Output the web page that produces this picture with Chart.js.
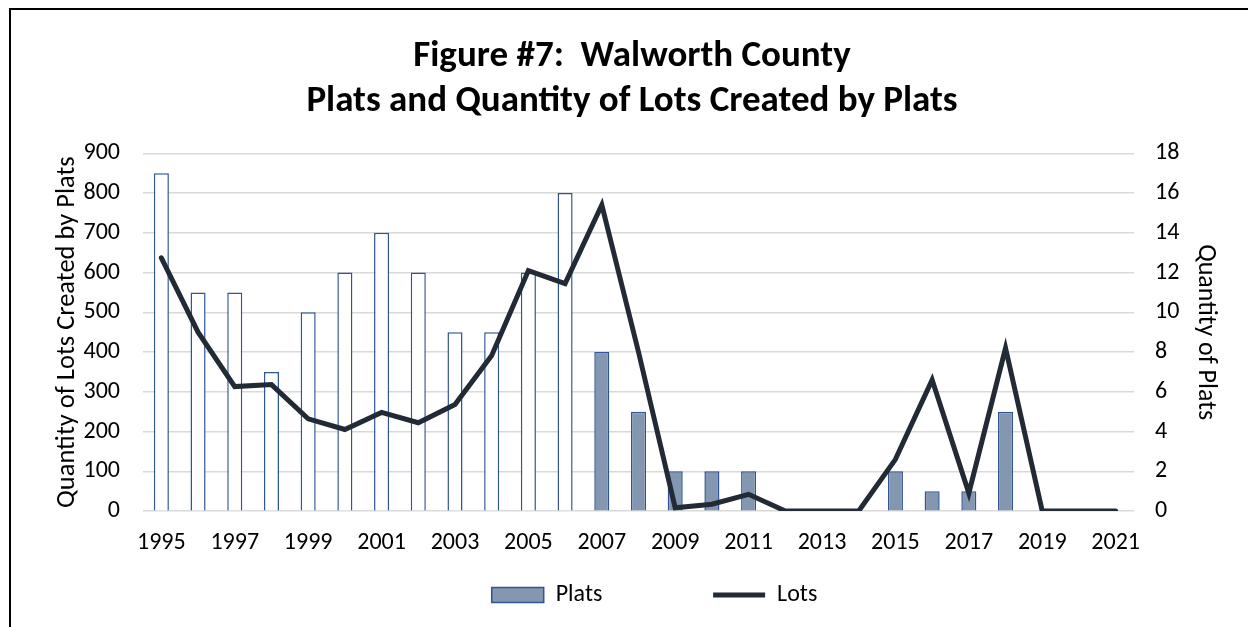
<!DOCTYPE html>
<html>
<head>
<meta charset="utf-8">
<script src="https://cdn.jsdelivr.net/npm/chart.js@4/dist/chart.umd.min.js"></script>
<style>
  html, body { margin: 0; padding: 0; background: #fff; }
  #frame { position: absolute; left: 9px; top: 8px; width: 1300px; height: 700px;
           border-left: 2px solid #000; border-top: 2px solid #000; }
  #wrap { position: absolute; left: 0; top: 0; width: 1248px; height: 627px; }
</style>
</head>
<body>
<div id="frame"></div>
<div id="wrap"><canvas id="chart" width="1248" height="627"></canvas></div>
<script>
// data
var years = ['1995','1996','1997','1998','1999','2000','2001','2002','2003','2004','2005','2006','2007',
             '2008','2009','2010','2011','2012','2013','2014','2015','2016','2017','2018','2019','2020','2021'];
var plats = [17, 11, 11, 7, 10, 12, 14, 12, 9, 9, 12, 16, 8, 5, 2, 2, 2, 0, 0, 0, 2, 1, 1, 5, 0, 0, 0];
var lots = [637, 450, 313, 318, 232, 205, 248, 222, 268, 391, 605, 572, 770, 400, 8, 17, 42, 0, 0, 0, 130, 330, 45, 410, 0, 0, 0];
var lotsTicks = [0, 100, 200, 300, 400, 500, 600, 700, 800, 900];
var platsTicks = [0, 2, 4, 6, 8, 10, 12, 14, 16, 18];

var BAR_EDGE = '#2F5597';
var BAR_FILL = '#8497B0';
var LINE_COL = '#222A35';
var GRID_COL = '#D9D9D9';

// hollow bars up to 2006, filled from 2007 on
var barFills = years.map(function (y) { return parseInt(y) < 2007 ? '#FFFFFF' : BAR_FILL; });

Chart.defaults.font.family = "Carlito, Calibri, Lato, sans-serif";
Chart.defaults.color = '#000';

// nudge the legend row a little right, like the original
var legendNudge = {
    id: 'legendNudge',
    afterLayout: function (c) {
        c.legend.left += 16;
        c.legend.right += 16;
    }
};

var ctx = document.getElementById('chart').getContext('2d');
var chart = new Chart(ctx, {
    type: 'bar',
    data: {
        labels: years,
        datasets: [
            {
                type: 'bar',
                label: 'Plats',
                data: plats,
                yAxisID: 'y1',
                backgroundColor: barFills,
                borderColor: BAR_EDGE,
                borderWidth: 1.5,
                barPercentage: 0.41,
                categoryPercentage: 1.0,
                order: 1
            },
            {
                type: 'line',
                label: 'Lots',
                data: lots,
                yAxisID: 'y',
                borderColor: LINE_COL,
                backgroundColor: LINE_COL,
                borderWidth: 5,
                pointRadius: 0,
                tension: 0,
                borderCapStyle: 'round',
                order: 0
            }
        ]
    },
    plugins: [legendNudge],
    options: {
        responsive: false,
        animation: false,
        layout: { padding: { left: 16, right: 0, top: 0, bottom: 10 } },
        plugins: {
            title: {
                display: true,
                text: ['Figure #7:  Walworth County', 'Plats and Quantity of Lots Created by Plats'],
                font: { size: 37, weight: 'bold', lineHeight: 1.22 },
                color: '#000',
                padding: { top: 34, bottom: 29 }
            },
            legend: {
                position: 'bottom',
                fullSize: false,
                labels: {
                    usePointStyle: true,
                    pointStyleWidth: 52,
                    boxHeight: 15,
                    padding: 10,
                    font: { size: 24 },
                    color: '#000',
                    sort: function (a, b) { return a.datasetIndex - b.datasetIndex; },
                    generateLabels: function (c) {
                        var items = Chart.defaults.plugins.legend.labels.generateLabels(c);
                        items.forEach(function (it) {
                            if (it.datasetIndex === 0) {
                                it.fillStyle = BAR_FILL;
                                it.strokeStyle = BAR_EDGE;
                                it.lineWidth = 1.5;
                                it.pointStyle = 'rect';
                                it.text = 'Plats' + '\u2003\u2003\u2003\u2003\u2009';
                            } else {
                                it.strokeStyle = LINE_COL;
                                it.lineWidth = 5;
                                it.pointStyle = 'line';
                            }
                        });
                        return items;
                    }
                }
            },
            tooltip: { enabled: false }
        },
        scales: {
            x: {
                grid: { display: false, drawTicks: false },
                border: { display: false },
                ticks: {
                    autoSkip: false,
                    maxRotation: 0,
                    padding: 18,
                    font: { size: 24 },
                    callback: function (v, i) { return i % 2 === 0 ? years[i] : ''; }
                },
                afterFit: function (s) { s.height = 62; }
            },
            y: {
                position: 'left',
                min: 0,
                max: 900,
                afterBuildTicks: function (s) { s.ticks = lotsTicks.map(function (v) { return { value: v }; }); },
                grid: { color: GRID_COL, lineWidth: 1.5, drawTicks: false },
                border: { display: false },
                ticks: { padding: 23, font: { size: 24 } },
                title: {
                    display: true,
                    text: 'Quantity of Lots Created by Plats',
                    font: { size: 26.5 },
                    padding: { top: 35, bottom: 0 }
                },
                afterFit: function (s) { s.width = 127; }
            },
            y1: {
                position: 'right',
                min: 0,
                max: 18,
                afterBuildTicks: function (s) { s.ticks = platsTicks.map(function (v) { return { value: v }; }); },
                grid: { drawOnChartArea: false, drawTicks: false },
                border: { display: false },
                ticks: { padding: 21, font: { size: 24 } },
                title: {
                    display: true,
                    text: 'Quantity of Plats',
                    font: { size: 26 },
                    padding: { top: 27, bottom: 0 }
                },
                afterFit: function (s) { s.width = 114; }
            }
        }
    }
});
</script>
</body>
</html>
